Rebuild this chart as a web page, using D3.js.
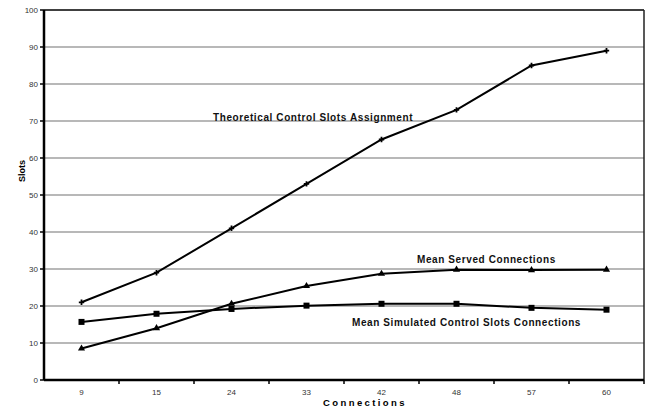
<!DOCTYPE html>
<html>
<head>
<meta charset="utf-8">
<script src="https://cdn.jsdelivr.net/npm/d3@7"></script>
<style>
    body {margin: 0; background: #fff;}
    text {font-family: "Liberation Sans", Arial, sans-serif;}
</style>
</head>
<body>
<svg id="chart" width="658" height="410"></svg>
<script>
const connections = ["9", "15", "24", "33", "42", "48", "57", "60"]
const theoretical = [21, 29, 41, 53, 65, 73, 85, 89]
const meanServed = [8.5, 14, 20.6, 25.4, 28.7, 29.8, 29.7, 29.8]
const meanSimulated = [15.7, 17.9, 19.2, 20.1, 20.6, 20.6, 19.5, 19.0]
const yTicks = d3.range(0, 101, 10)

const margin = {top: 10, right: 14, bottom: 30, left: 44}
const width = 658 - margin.left - margin.right
const height = 410 - margin.top - margin.bottom

const svg = d3.select("#chart")
    .append("g")
    .attr("transform", "translate(" + margin.left + "," + margin.top + ")")

const x = d3.scaleBand()
    .domain(connections)
    .range([0, width])

const y = d3.scaleLinear()
    .domain([0, 100])
    .range([height, 0])

// gridlines
svg.append("g")
    .selectAll("line")
    .data(yTicks.filter(d => d > 0 && d < 100))
    .enter()
    .append("line")
    .attr("x1", 0)
    .attr("x2", width)
    .attr("y1", d => y(d))
    .attr("y2", d => y(d))
    .style("stroke", "#a0a0a0")
    .style("stroke-width", 1.5)

// frame: top and right
svg.append("line").attr("x1", 0).attr("x2", width).attr("y1", 0).attr("y2", 0)
    .style("stroke", "#000").style("stroke-width", 1.5)
svg.append("line").attr("x1", width).attr("x2", width).attr("y1", 0).attr("y2", height)
    .style("stroke", "#222").style("stroke-width", 1.5)

// X axis, ticks between categories
const xAxis = svg.append("g")
    .attr("transform", "translate(0," + height + ")")
xAxis.append("line").attr("x1", 0).attr("x2", width)
    .style("stroke", "#000").style("stroke-width", 2.5)
xAxis.selectAll(".tk")
    .data(connections)
    .enter()
    .append("line")
    .attr("x1", d => x(d) + x.bandwidth())
    .attr("x2", d => x(d) + x.bandwidth())
    .attr("y1", 0)
    .attr("y2", 4)
    .style("stroke", "#000").style("stroke-width", 1.5)
xAxis.selectAll("text")
    .data(connections)
    .enter()
    .append("text")
    .attr("x", d => x(d) + x.bandwidth() / 2)
    .attr("y", 15)
    .style("text-anchor", "middle")
    .style("font-size", "8px")
    .style("fill", "#333")
    .text(d => d)

// Y axis
const yAxis = svg.append("g")
yAxis.append("line").attr("y1", 0).attr("y2", height)
    .style("stroke", "#000").style("stroke-width", 2.5)
yAxis.selectAll(".tk")
    .data(yTicks)
    .enter()
    .append("line")
    .attr("x1", -4).attr("x2", 0)
    .attr("y1", d => y(d)).attr("y2", d => y(d))
    .style("stroke", "#000").style("stroke-width", 1.5)
yAxis.selectAll("text")
    .data(yTicks)
    .enter()
    .append("text")
    .attr("x", -6)
    .attr("y", d => y(d))
    .attr("dy", "0.35em")
    .style("text-anchor", "end")
    .style("font-size", "8px")
    .style("fill", "#333")
    .text(d => d)

// axis titles
svg.append("text")
    .attr("x", width / 2 + 21)
    .attr("y", height + 26)
    .style("text-anchor", "middle")
    .style("font-size", "9.5px")
    .style("font-weight", "bold")
    .style("letter-spacing", "2.4px")
    .text("Connections")

svg.append("text")
    .attr("transform", "rotate(-90)")
    .attr("x", -161)
    .attr("y", -19)
    .style("text-anchor", "middle")
    .style("font-size", "9px")
    .style("font-weight", "bold")
    .text("Slots")

// series
const line = d3.line()
    .x((d, i) => x(connections[i]) + x.bandwidth() / 2)
    .y(d => y(d))

const appendSeries = (data, symbol, size) => {
    svg.append("path")
        .datum(data)
        .attr("d", line)
        .style("fill", "none")
        .style("stroke", "#000")
        .style("stroke-width", 2)
    svg.append("g")
        .selectAll("path")
        .data(data)
        .enter()
        .append("path")
        .attr("transform", (d, i) => "translate(" + (x(connections[i]) + x.bandwidth() / 2) + "," + y(d) + ")")
        .attr("d", d3.symbol().type(symbol).size(size))
        .style("fill", "#000")
}

appendSeries(meanSimulated, d3.symbolSquare, 36)
appendSeries(meanServed, d3.symbolTriangle, 22)
appendSeries(theoretical, d3.symbolCross, 16)

// series labels
const labels = [
    {text: "Theoretical Control Slots Assignment", cx: "24", value: 70, dx: 19},
    {text: "Mean Served Connections", cx: "42", value: 31.5, dx: 73},
    {text: "Mean Simulated Control Slots Connections", cx: "33", value: 14.6, dx: 83}
]
svg.selectAll(".lbl")
    .data(labels)
    .enter()
    .append("text")
    .attr("x", d => x(d.cx) + d.dx)
    .attr("y", d => y(d.value))
    .style("font-size", "10px")
    .style("font-weight", "bold")
    .style("letter-spacing", "0.6px")
    .style("fill", "#111")
    .text(d => d.text)
</script>
</body>
</html>
